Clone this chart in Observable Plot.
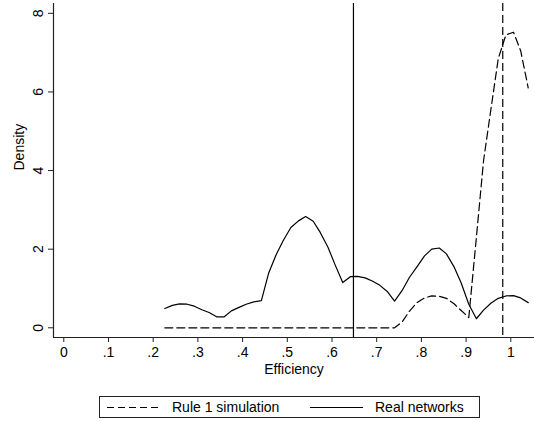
<!DOCTYPE html>
<html>
<head>
<meta charset="utf-8">
<script src="https://cdn.jsdelivr.net/npm/d3@7"></script>
<script src="https://cdn.jsdelivr.net/npm/@observablehq/plot@0.6"></script>
<style>
  html, body { margin: 0; padding: 0; background: #fff; }
  #wrap { position: relative; width: 534px; height: 421px; font-family: "Liberation Sans", Arial, Helvetica, sans-serif; }
  #legend { position: absolute; left: 99px; top: 396px; width: 381px; height: 22px; box-sizing: border-box;
            border: 1px solid #222; font-size: 14px; color: #000; }
  #legend .item { position: absolute; top: 0; height: 20px; display: flex; align-items: center; white-space: nowrap; }
  #legend svg { display: block; }
</style>
</head>
<body>
<div id="wrap"><div id="chart"></div><div id="legend"></div></div>
<script>
// Kernel density estimates of network efficiency, evaluated on a common grid
const efficiency = [0.226, 0.243, 0.259, 0.276, 0.292, 0.309, 0.325, 0.342, 0.359, 0.375,
                    0.392, 0.408, 0.425, 0.442, 0.458, 0.475, 0.491, 0.508, 0.525, 0.541,
                    0.558, 0.574, 0.591, 0.607, 0.624, 0.641, 0.657, 0.674, 0.690, 0.707,
                    0.723, 0.740, 0.757, 0.773, 0.790, 0.807, 0.823, 0.840, 0.856, 0.873,
                    0.889, 0.906, 0.923, 0.939, 0.956, 0.972, 0.989, 1.006, 1.022, 1.039];

const realDensity = [0.49, 0.57, 0.61, 0.60, 0.55, 0.46, 0.39, 0.28, 0.28, 0.43,
                     0.52, 0.60, 0.66, 0.69, 1.38, 1.86, 2.22, 2.55, 2.72, 2.83,
                     2.71, 2.42, 2.05, 1.60, 1.15, 1.30, 1.31, 1.27, 1.19, 1.08,
                     0.93, 0.68, 0.95, 1.28, 1.55, 1.83, 2.00, 2.03, 1.88, 1.55,
                     1.14, 0.60, 0.23, 0.45, 0.63, 0.75, 0.81, 0.82, 0.76, 0.64];

const simDensity = [0, 0, 0, 0, 0, 0, 0, 0, 0, 0,
                    0, 0, 0, 0, 0, 0, 0, 0, 0, 0,
                    0, 0, 0, 0, 0, 0, 0, 0, 0, 0,
                    0, 0, 0.15, 0.42, 0.64, 0.76, 0.81, 0.80, 0.75, 0.61,
                    0.44, 0.26, 2.30, 4.25, 5.60, 6.85, 7.45, 7.52, 7.05, 6.10];

// Means of each distribution, drawn as vertical reference lines
const meanReal = 0.648;
const meanSim = 0.982;

const seriesNames = ["Rule 1 simulation", "Real networks"];
const xTicks = [0, 0.1, 0.2, 0.3, 0.4, 0.5, 0.6, 0.7, 0.8, 0.9, 1];
const yTicks = [0, 2, 4, 6, 8];
const xDomain = [-0.023, 1.053];
const yDomain = [-0.247, 8.25];

const sim = efficiency.map((x, i) => ({x, y: simDensity[i]}));
const real = efficiency.map((x, i) => ({x, y: realDensity[i]}));

const dash = "8,4";
const fmtX = d => d === 0 ? "0" : d === 1 ? "1" : String(+d.toFixed(1)).replace(/^0\./, ".");

const chart = Plot.plot({
  width: 534,
  height: 385,
  marginLeft: 53,
  marginRight: 0,
  marginTop: 3,
  marginBottom: 48,
  style: {fontFamily: "'Liberation Sans', Arial, Helvetica, sans-serif", fontSize: "14px", color: "#000", background: "#fff", overflow: "visible"},
  x: {domain: xDomain},
  y: {domain: yDomain},
  marks: [
    Plot.axisX({ticks: xTicks, tickFormat: fmtX, tickSize: 5, tickPadding: 5, label: null, stroke: "#222", fontSize: 14}),
    Plot.axisY({ticks: yTicks, tickSize: 5, tickPadding: 6, tickRotate: -90, label: null, stroke: "#222", fontSize: 14}),
    Plot.ruleX([xDomain[0]], {stroke: "#222", strokeWidth: 1.2}),
    Plot.ruleY([yDomain[0]], {stroke: "#222", strokeWidth: 1.2}),
    Plot.text(["Efficiency"], {frameAnchor: "bottom", dy: 36, fill: "#000", fontSize: 14}),
    Plot.text(["Density"], {frameAnchor: "left", dx: -34, rotate: -90, fill: "#000", fontSize: 14}),
    Plot.ruleX([meanReal], {stroke: "#000", strokeWidth: 1.2}),
    Plot.ruleX([meanSim], {stroke: "#000", strokeWidth: 1.2, strokeDasharray: dash}),
    Plot.line(real, {x: "x", y: "y", stroke: "#000", strokeWidth: 1.2}),
    Plot.line(sim, {x: "x", y: "y", stroke: "#000", strokeWidth: 1.2, strokeDasharray: dash})
  ]
});
document.getElementById("chart").appendChild(chart);

// Legend box below the chart
const legend = d3.select("#legend");
const items = [
  {name: seriesNames[0], dashed: true, left: 7, len: 54, textLeft: 72},
  {name: seriesNames[1], dashed: false, left: 210, len: 53, textLeft: 275}
];
for (const it of items) {
  const g = legend.append("div").attr("class", "item").style("left", it.left + "px");
  const s = g.append("svg").attr("width", it.len).attr("height", 20);
  s.append("line").attr("x1", 0).attr("x2", it.len).attr("y1", 10.5).attr("y2", 10.5)
    .attr("stroke", "#000").attr("stroke-width", 1.2)
    .attr("stroke-dasharray", it.dashed ? "7,4" : null);
  legend.append("div").attr("class", "item").style("left", it.textLeft + "px").text(it.name);
}
</script>
</body>
</html>
